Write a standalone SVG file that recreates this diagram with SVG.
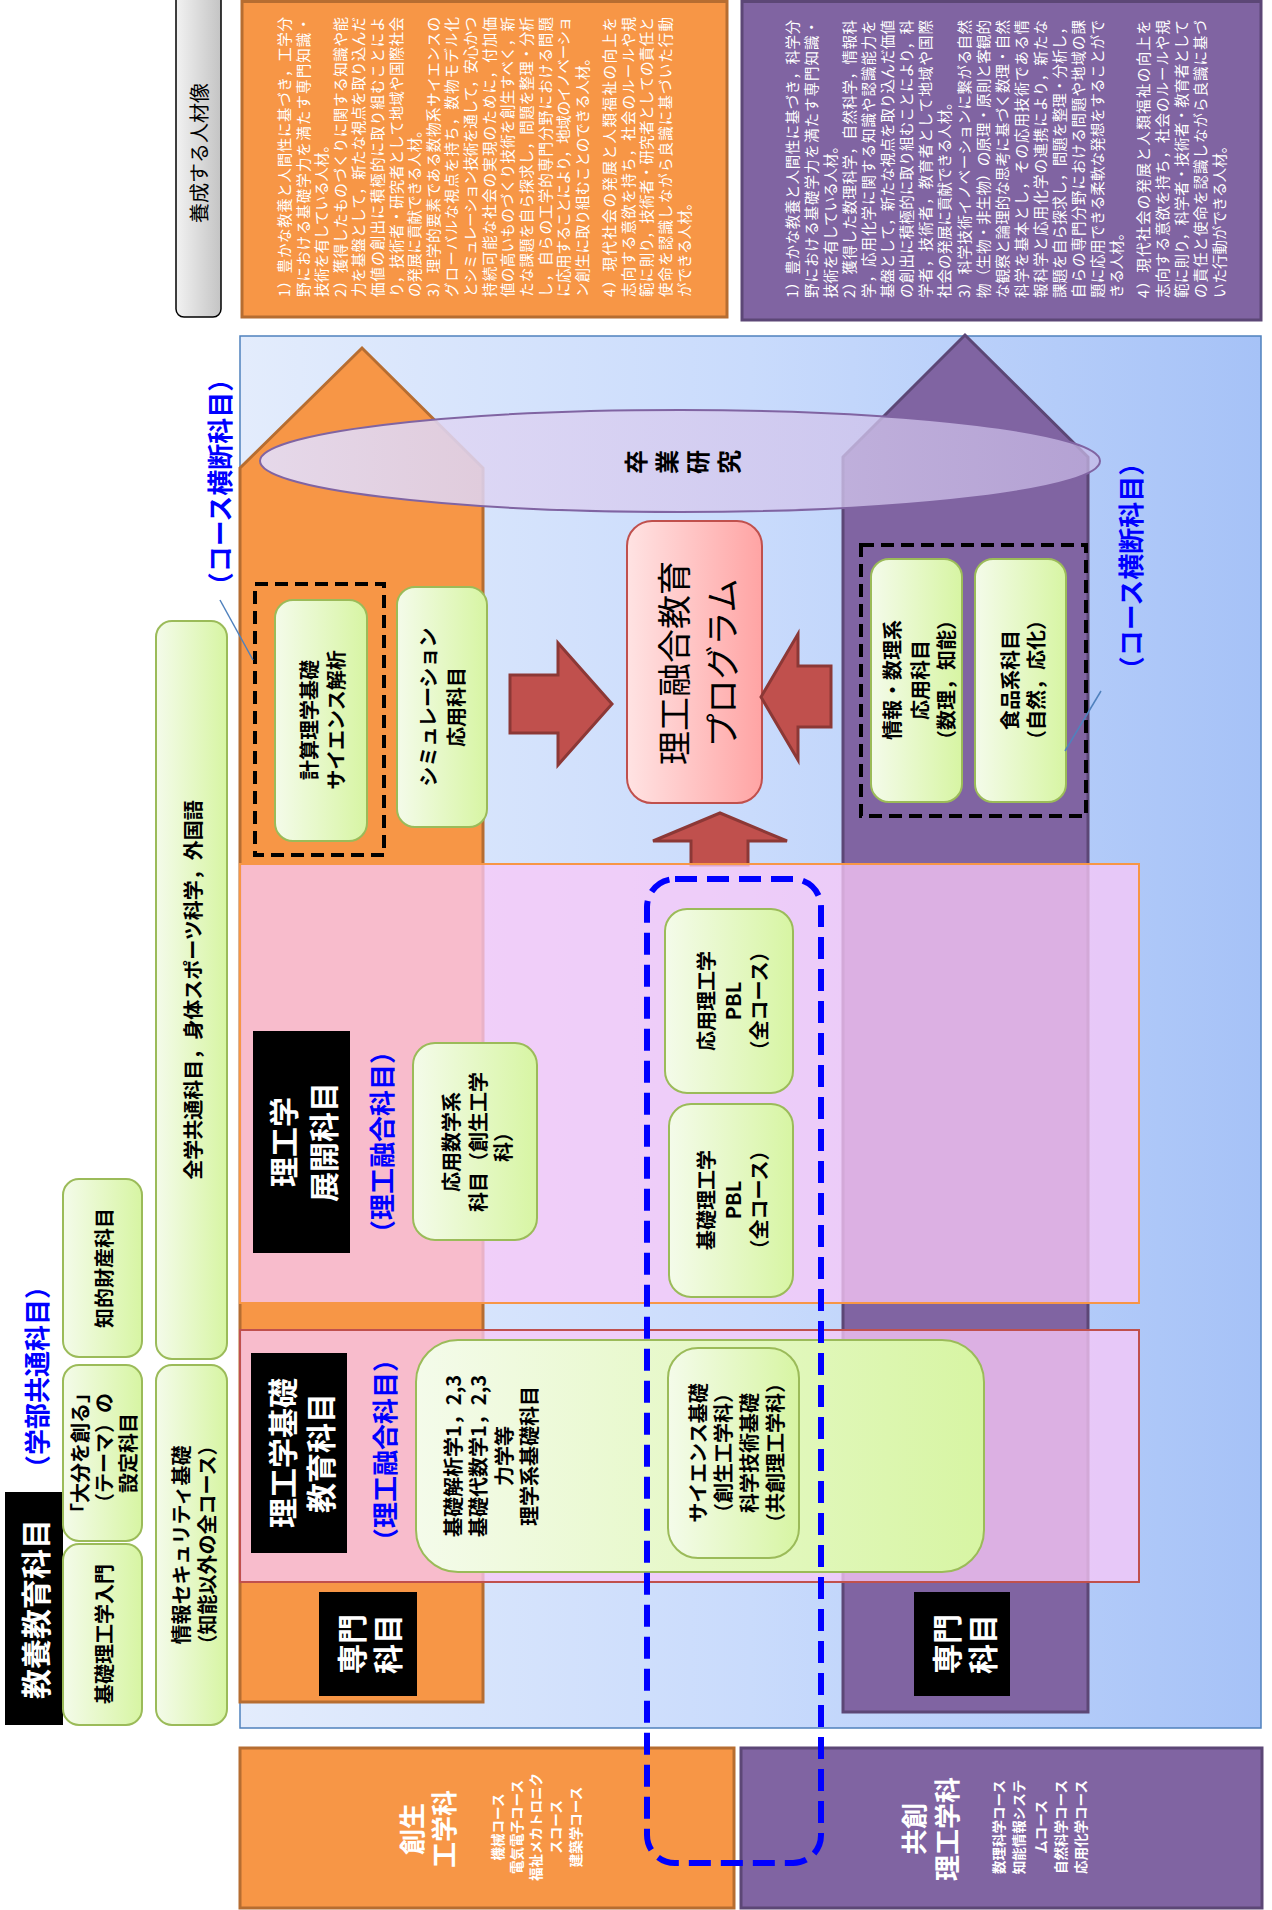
<svg xmlns="http://www.w3.org/2000/svg" width="1272" height="1910" viewBox="0 0 1272 1910">
<defs>
<linearGradient id="gBg" x1="0" y1="0" x2="1" y2="0">
<stop offset="0" stop-color="#E3ECFC"/><stop offset="0.5" stop-color="#C9DBFC"/><stop offset="1" stop-color="#A6C2F7"/>
</linearGradient>
<linearGradient id="gGreen" x1="0" y1="0" x2="1" y2="0">
<stop offset="0" stop-color="#F4FBEA"/><stop offset="1" stop-color="#D7F5A3"/>
</linearGradient>
<linearGradient id="gPink" x1="0" y1="0" x2="1" y2="0">
<stop offset="0" stop-color="#FFE3E3"/><stop offset="1" stop-color="#FFA4A4"/>
</linearGradient>
<linearGradient id="gGray" x1="0" y1="0" x2="1" y2="0">
<stop offset="0" stop-color="#F2F2F2"/><stop offset="1" stop-color="#C4C4C4"/>
</linearGradient>
<linearGradient id="gEll" gradientUnits="userSpaceOnUse" x1="260" y1="0" x2="1100" y2="0">
<stop offset="0" stop-color="#E4DEF8" stop-opacity="0.92"/><stop offset="1" stop-color="#C8B9E6" stop-opacity="0.72"/>
</linearGradient>
<style>
text{font-family:"Noto Sans CJK JP","Noto Sans",sans-serif;text-anchor:middle;dominant-baseline:central}
.p{font-size:14.5px;fill:#fff;text-anchor:start}
.g{font-size:20px;font-weight:700;fill:#000}
.b{font-size:26px;font-weight:700;fill:#0000FF}
.k{font-size:30px;font-weight:700;fill:#fff}
.c{font-size:13.5px;font-weight:700;fill:#fff}
.d{font-size:26px;font-weight:700;fill:#fff}
.gb{fill:url(#gGreen);stroke:#9BBB59;stroke-width:2}
.dash{fill:none;stroke:#000;stroke-width:4;stroke-dasharray:13 7}
.arr{fill:#C0504D;stroke:#8C3836;stroke-width:3}
.band{fill:#F9C8F7;fill-opacity:0.76;stroke-width:2}
.ln{stroke:#4F81BD;stroke-width:1.5;fill:none}
</style>
</defs>
<rect width="1272" height="1910" fill="#fff"/>

<g id="label-jinzai">
<rect x="176" y="-10" width="45" height="327" rx="8" fill="url(#gGray)" stroke="#000" stroke-width="1.5"/>
<text transform="translate(198 153) rotate(-90)" font-size="20">養成する人材像</text>
</g>

<g id="jinzai-sousei">
<rect x="242" y="1.5" width="485" height="315.5" fill="#F79646" stroke="#B66D31" stroke-width="3"/>
<text class="p" transform="translate(283 297) rotate(-90)" textLength="280" lengthAdjust="spacing">1）豊かな教養と人間性に基づき，工学分</text>
<text class="p" transform="translate(302 297) rotate(-90)" textLength="280" lengthAdjust="spacing">野における基礎学力を満たす専門知識・</text>
<text class="p" transform="translate(320 297) rotate(-90)">技術を有している人材。</text>
<text class="p" transform="translate(339 297) rotate(-90)" textLength="280" lengthAdjust="spacing">2）獲得したものづくりに関する知識や能</text>
<text class="p" transform="translate(357 297) rotate(-90)" textLength="280" lengthAdjust="spacing">力を基盤として，新たな視点を取り込んだ</text>
<text class="p" transform="translate(376 297) rotate(-90)" textLength="280" lengthAdjust="spacing">価値の創出に積極的に取り組むことによ</text>
<text class="p" transform="translate(395 297) rotate(-90)" textLength="280" lengthAdjust="spacing">り，技術者・研究者として地域や国際社会</text>
<text class="p" transform="translate(413 297) rotate(-90)">の発展に貢献できる人材。</text>
<text class="p" transform="translate(432 297) rotate(-90)" textLength="280" lengthAdjust="spacing">3）理学的要素である数物系サイエンスの</text>
<text class="p" transform="translate(450 297) rotate(-90)" textLength="280" lengthAdjust="spacing">グローバルな視点を持ち，数物モデル化</text>
<text class="p" transform="translate(469 297) rotate(-90)" textLength="280" lengthAdjust="spacing">とシミュレーション技術を通して，安心かつ</text>
<text class="p" transform="translate(488 297) rotate(-90)" textLength="280" lengthAdjust="spacing">持続可能な社会の実現のために，付加価</text>
<text class="p" transform="translate(506 297) rotate(-90)" textLength="280" lengthAdjust="spacing">値の高いものづくり技術を創生すべく，新</text>
<text class="p" transform="translate(525 297) rotate(-90)" textLength="280" lengthAdjust="spacing">たな課題を自ら探求し，問題を整理・分析</text>
<text class="p" transform="translate(544 297) rotate(-90)" textLength="280" lengthAdjust="spacing">し，自らの工学的専門分野における問題</text>
<text class="p" transform="translate(562 297) rotate(-90)" textLength="280" lengthAdjust="spacing">に応用することにより，地域のイノベーショ</text>
<text class="p" transform="translate(581 297) rotate(-90)">ン創生に取り組むことのできる人材。</text>
<text class="p" transform="translate(608 297) rotate(-90)" textLength="280" lengthAdjust="spacing">4）現代社会の発展と人類福祉の向上を</text>
<text class="p" transform="translate(627 297) rotate(-90)" textLength="280" lengthAdjust="spacing">志向する意欲を持ち，社会のルールや規</text>
<text class="p" transform="translate(645 297) rotate(-90)" textLength="280" lengthAdjust="spacing">範に則り，技術者・研究者としての責任と</text>
<text class="p" transform="translate(664 297) rotate(-90)" textLength="280" lengthAdjust="spacing">使命を認識しながら良識に基づいた行動</text>
<text class="p" transform="translate(683 297) rotate(-90)">ができる人材。</text>
</g>

<g id="jinzai-kyousou">
<rect x="742" y="1.5" width="519" height="318.5" fill="#8064A2" stroke="#5C4776" stroke-width="3"/>
<text class="p" transform="translate(791 298) rotate(-90)" textLength="278" lengthAdjust="spacing">1）豊かな教養と人間性に基づき，科学分</text>
<text class="p" transform="translate(810 298) rotate(-90)" textLength="278" lengthAdjust="spacing">野における基礎学力を満たす専門知識・</text>
<text class="p" transform="translate(829 298) rotate(-90)">技術を有している人材。</text>
<text class="p" transform="translate(848 298) rotate(-90)" textLength="278" lengthAdjust="spacing">2）獲得した数理科学，自然科学，情報科</text>
<text class="p" transform="translate(867 298) rotate(-90)" textLength="278" lengthAdjust="spacing">学，応用化学に関する知識や認識能力を</text>
<text class="p" transform="translate(886 298) rotate(-90)" textLength="278" lengthAdjust="spacing">基盤として，新たな視点を取り込んだ価値</text>
<text class="p" transform="translate(905 298) rotate(-90)" textLength="278" lengthAdjust="spacing">の創出に積極的に取り組むことにより，科</text>
<text class="p" transform="translate(924 298) rotate(-90)" textLength="278" lengthAdjust="spacing">学者，技術者，教育者として地域や国際</text>
<text class="p" transform="translate(943 298) rotate(-90)">社会の発展に貢献できる人材。</text>
<text class="p" transform="translate(963 298) rotate(-90)" textLength="278" lengthAdjust="spacing">3）科学技術イノベーションに繋がる自然</text>
<text class="p" transform="translate(982 298) rotate(-90)" textLength="278" lengthAdjust="spacing">物（生物・非生物）の原理・原則と客観的</text>
<text class="p" transform="translate(1001 298) rotate(-90)" textLength="278" lengthAdjust="spacing">な観察と論理的な思考に基づく数理・自然</text>
<text class="p" transform="translate(1020 298) rotate(-90)" textLength="278" lengthAdjust="spacing">科学を基本とし，その応用技術である情</text>
<text class="p" transform="translate(1039 298) rotate(-90)" textLength="278" lengthAdjust="spacing">報科学と応用化学の連携により，新たな</text>
<text class="p" transform="translate(1058 298) rotate(-90)" textLength="278" lengthAdjust="spacing">課題を自ら探求し，問題を整理・分析し，</text>
<text class="p" transform="translate(1077 298) rotate(-90)" textLength="278" lengthAdjust="spacing">自らの専門分野における問題や地域の課</text>
<text class="p" transform="translate(1096 298) rotate(-90)" textLength="278" lengthAdjust="spacing">題に応用できる柔軟な発想をすることがで</text>
<text class="p" transform="translate(1115 298) rotate(-90)">きる人材。</text>
<text class="p" transform="translate(1142 298) rotate(-90)" textLength="278" lengthAdjust="spacing">4）現代社会の発展と人類福祉の向上を</text>
<text class="p" transform="translate(1161 298) rotate(-90)" textLength="278" lengthAdjust="spacing">志向する意欲を持ち，社会のルールや規</text>
<text class="p" transform="translate(1180 298) rotate(-90)" textLength="278" lengthAdjust="spacing">範に則り，科学者・技術者・教育者として</text>
<text class="p" transform="translate(1199 298) rotate(-90)" textLength="278" lengthAdjust="spacing">の責任と使命を認識しながら良識に基づ</text>
<text class="p" transform="translate(1218 298) rotate(-90)">いた行動ができる人材。</text>
</g>

<g id="background">
<rect x="240" y="336" width="1021" height="1392" fill="url(#gBg)" stroke="#4F81BD" stroke-width="1.5"/>
</g>

<g id="house-sousei">
<polygon points="240,468 362,348 483,468 483,1702 240,1702" fill="#F79646" stroke="#B66D31" stroke-width="3"/>
</g>
<g id="house-kyousou">
<polygon points="843,457 965,335 1088,457 1088,1712 843,1712" fill="#8064A2" stroke="#5C4776" stroke-width="3"/>
</g>

<g id="sotsugyo-kenkyu">
<ellipse cx="680" cy="461" rx="420" ry="51" fill="url(#gEll)" stroke="#8064A2" stroke-width="2"/>
<text transform="translate(634 462) rotate(-90)" font-size="24" font-weight="700">卒</text>
<text transform="translate(665 462) rotate(-90)" font-size="24" font-weight="700">業</text>
<text transform="translate(696 462) rotate(-90)" font-size="24" font-weight="700">研</text>
<text transform="translate(727 462) rotate(-90)" font-size="24" font-weight="700">究</text>
</g>

<g id="kyouyou-label">
<rect x="5" y="1492" width="58" height="233" fill="#000"/>
<text class="k" transform="translate(34 1609) rotate(-90)">教養教育科目</text>
<text class="b" transform="translate(35 1377) rotate(-90)" font-size="27">（学部共通科目）</text>
</g>
<g id="kiso-nyumon">
<rect class="gb" x="63" y="1544" width="79" height="181" rx="16"/>
<text class="g" transform="translate(103 1634) rotate(-90)">基礎理工学入門</text>
</g>
<g id="oita">
<rect class="gb" x="63" y="1365" width="79" height="176" rx="16"/>
<text class="g" transform="translate(79 1453) rotate(-90)">「大分を創る」</text>
<text class="g" transform="translate(103 1453) rotate(-90)">（テーマ）の</text>
<text class="g" transform="translate(127 1453) rotate(-90)">設定科目</text>
</g>
<g id="chiteki">
<rect class="gb" x="63" y="1179" width="79" height="178" rx="16"/>
<text class="g" transform="translate(103 1268) rotate(-90)">知的財産科目</text>
</g>
<g id="security">
<rect class="gb" x="156" y="1365" width="71" height="360" rx="16"/>
<text class="g" transform="translate(180 1545) rotate(-90)">情報セキュリティ基礎</text>
<text class="g" transform="translate(206 1545) rotate(-90)">（知能以外の全コース）</text>
</g>
<g id="zengaku">
<rect class="gb" x="156" y="621" width="71" height="738" rx="16"/>
<text class="g" transform="translate(192 990) rotate(-90)">全学共通科目，身体スポーツ科学，外国語</text>
</g>

<g id="course-oudan-left">
<rect class="dash" x="255" y="584" width="129" height="271"/>
<text class="b" transform="translate(218 482) rotate(-90)">（コース横断科目）</text>
</g>
<g id="keisan">
<rect class="gb" x="275" y="600" width="92" height="241" rx="18"/>
<text class="g" transform="translate(308 720) rotate(-90)" font-size="21">計算理学基礎</text>
<text class="g" transform="translate(335 720) rotate(-90)" font-size="21">サイエンス解析</text>
</g>
<g id="simulation">
<rect class="gb" x="397" y="587" width="90" height="240" rx="18"/>
<text class="g" transform="translate(427 707) rotate(-90)">シミュレーション</text>
<text class="g" transform="translate(455 707) rotate(-90)">応用科目</text>
</g>

<g id="program">
<rect x="627" y="521" width="135" height="282" rx="25" fill="url(#gPink)" stroke="#C0504D" stroke-width="2"/>
<text transform="translate(672 663) rotate(-90)" font-size="34">理工融合教育</text>
<text transform="translate(720 663) rotate(-90)" font-size="34">プログラム</text>
</g>

<g id="course-oudan-right">
<rect class="dash" x="861" y="545" width="225" height="271"/>
<text class="b" transform="translate(1129 566) rotate(-90)">（コース横断科目）</text>
</g>
<g id="joho-suri">
<rect class="gb" x="871" y="559" width="91" height="243" rx="18"/>
<text class="g" transform="translate(891 680) rotate(-90)">情報・数理系</text>
<text class="g" transform="translate(919 680) rotate(-90)">応用科目</text>
<text class="g" transform="translate(945 680) rotate(-90)">（数理，知能）</text>
</g>
<g id="shokuhin">
<rect class="gb" x="975" y="559" width="91" height="243" rx="18"/>
<text class="g" transform="translate(1009 680) rotate(-90)">食品系科目</text>
<text class="g" transform="translate(1035 680) rotate(-90)">（自然，応化）</text>
</g>

<g id="connectors">
<polygon class="arr" points="510,675 558,675 558,643 612,704 558,765 558,733 510,733"/>
<polygon class="arr" points="761,697 798,634 798,666 831,666 831,727 798,727 798,760"/>
<polygon class="arr" points="720,813 787,841 748,841 748,865 691,865 691,841 653,841"/>
<line class="ln" x1="220" y1="600" x2="253" y2="660"/>
<line class="ln" x1="1101" y1="691" x2="1065" y2="751"/>
</g>

<g id="band-tenkai">
<rect class="band" x="240" y="864" width="899" height="439" stroke="#F79646"/>
<rect x="253" y="1031" width="97" height="222" fill="#000"/>
<text class="k" transform="translate(282 1142) rotate(-90)">理工学</text>
<text class="k" transform="translate(322 1142) rotate(-90)">展開科目</text>
<text class="b" transform="translate(380 1142) rotate(-90)">（理工融合科目）</text>
</g>
<g id="ouyou-sugaku">
<rect class="gb" x="413" y="1043" width="124" height="197" rx="22"/>
<text class="g" transform="translate(450 1142) rotate(-90)">応用数学系</text>
<text class="g" transform="translate(477 1142) rotate(-90)">科目（創生工学</text>
<text class="g" transform="translate(502 1142) rotate(-90)">科）</text>
</g>
<g id="pbl-ouyou">
<rect class="gb" x="665" y="909" width="128" height="184" rx="22"/>
<text class="g" transform="translate(705 1001) rotate(-90)">応用理工学</text>
<text class="g" transform="translate(732 1001) rotate(-90)">PBL</text>
<text class="g" transform="translate(758 1001) rotate(-90)">（全コース）</text>
</g>
<g id="pbl-kiso">
<rect class="gb" x="669" y="1104" width="124" height="193" rx="22"/>
<text class="g" transform="translate(705 1200) rotate(-90)">基礎理工学</text>
<text class="g" transform="translate(732 1200) rotate(-90)">PBL</text>
<text class="g" transform="translate(758 1200) rotate(-90)">（全コース）</text>
</g>

<g id="band-kiso">
<rect class="band" x="240" y="1330" width="899" height="252" stroke="#C0504D"/>
<rect x="251" y="1353" width="96" height="200" fill="#000"/>
<text class="k" transform="translate(281 1453) rotate(-90)" font-size="31">理工学基礎</text>
<text class="k" transform="translate(319 1453) rotate(-90)" font-size="31">教育科目</text>
<text class="b" transform="translate(383 1450) rotate(-90)">（理工融合科目）</text>
</g>
<g id="kiso-kamoku">
<rect class="gb" x="416" y="1340" width="568" height="232" rx="42"/>
<text class="g" transform="translate(452 1456) rotate(-90)">基礎解析学1，2,3</text>
<text class="g" transform="translate(477 1456) rotate(-90)">基礎代数学1，2,3</text>
<text class="g" transform="translate(503 1456) rotate(-90)">力学等</text>
<text class="g" transform="translate(528 1456) rotate(-90)">理学系基礎科目</text>
</g>
<g id="science-kiso">
<rect class="gb" x="668" y="1348" width="131" height="210" rx="30"/>
<text class="g" transform="translate(697 1453) rotate(-90)">サイエンス基礎</text>
<text class="g" transform="translate(722 1453) rotate(-90)">（創生工学科）</text>
<text class="g" transform="translate(748 1453) rotate(-90)">科学技術基礎</text>
<text class="g" transform="translate(774 1453) rotate(-90)">（共創理工学科）</text>
</g>

<g id="senmon-sousei">
<rect x="319" y="1592" width="98" height="104" fill="#000"/>
<text class="k" transform="translate(350 1644) rotate(-90)">専門</text>
<text class="k" transform="translate(386 1644) rotate(-90)">科目</text>
</g>
<g id="senmon-kyousou">
<rect x="914" y="1592" width="96" height="104" fill="#000"/>
<text class="k" transform="translate(945 1644) rotate(-90)">専門</text>
<text class="k" transform="translate(981 1644) rotate(-90)">科目</text>
</g>

<g id="dept-sousei">
<rect x="240" y="1748" width="494" height="160" fill="#F79646" stroke="#B66D31" stroke-width="3"/>
<text class="d" transform="translate(410 1829) rotate(-90)">創生</text>
<text class="d" transform="translate(442 1829) rotate(-90)">工学科</text>
<text class="c" transform="translate(497 1827) rotate(-90)">機械コース</text>
<text class="c" transform="translate(516 1827) rotate(-90)">電気電子コース</text>
<text class="c" transform="translate(535 1827) rotate(-90)">福祉メカトロニク</text>
<text class="c" transform="translate(555 1827) rotate(-90)">スコース</text>
<text class="c" transform="translate(575 1827) rotate(-90)">建築学コース</text>
</g>
<g id="dept-kyousou">
<rect x="741" y="1748" width="521" height="160" fill="#8064A2" stroke="#5C4776" stroke-width="3"/>
<text class="d" transform="translate(912 1829) rotate(-90)">共創</text>
<text class="d" transform="translate(945 1829) rotate(-90)">理工学科</text>
<text class="c" transform="translate(998 1827) rotate(-90)">数理科学コース</text>
<text class="c" transform="translate(1018 1827) rotate(-90)">知能情報システ</text>
<text class="c" transform="translate(1040 1827) rotate(-90)">ムコース</text>
<text class="c" transform="translate(1060 1827) rotate(-90)">自然科学コース</text>
<text class="c" transform="translate(1080 1827) rotate(-90)">応用化学コース</text>
</g>

<g id="yugo-group">
<rect x="647" y="879" width="174" height="984" rx="28" fill="none" stroke="#0000FF" stroke-width="6" stroke-dasharray="22 10"/>
</g>
</svg>
